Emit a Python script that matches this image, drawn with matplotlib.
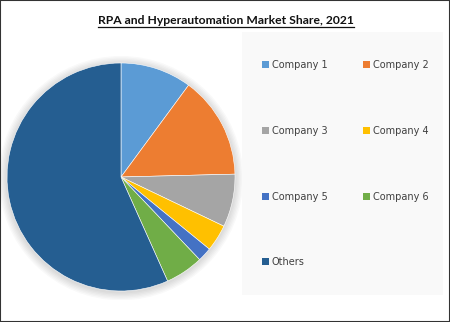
import matplotlib.pyplot as plt
from matplotlib.patches import Rectangle, Circle
from matplotlib.lines import Line2D

LABELS = ["Company 1", "Company 2", "Company 3", "Company 4", "Company 5", "Company 6", "Others"]
SHARES = [10.1, 14.5, 7.5, 3.8, 2.0, 5.4, 56.7]
COLORS = ["#5B9BD5", "#ED7D31", "#A5A5A5", "#FFC000", "#4472C4", "#70AD47", "#255E91"]
TITLE = "RPA and Hyperautomation Market Share, 2021"

W, H = 450, 322
fig = plt.figure(figsize=(W / 100, H / 100), dpi=100)

# outer border
fig.patches.append(Rectangle((0, 0), 1, 1, transform=fig.transFigure, fill=False,
                             edgecolor="#333333", linewidth=1.5))

# pie: center (121, 177), radius ~114 px, axes padded for the shadow
cx, cy, r, pad = 121, 177, 114, 1.08
half = r * pad
ax = fig.add_axes([(cx - half) / W, 1 - (cy + half) / H, 2 * half / W, 2 * half / H])
ax.axis("off")
for k in range(6):
    ax.add_patch(Circle((0.0, -0.01), 1.0 + 0.012 * (k + 1), color="black",
                        alpha=0.025, zorder=0, linewidth=0))
ax.pie(SHARES, colors=COLORS, startangle=90, counterclock=False, radius=1.0,
       wedgeprops=dict(linewidth=0.4, edgecolor="white"))
ax.set_aspect("equal")
ax.set_xlim(-pad, pad)
ax.set_ylim(-pad, pad)

# legend box
fig.patches.append(Rectangle((242 / W, 1 - 295 / H), (443 - 242) / W, (295 - 32) / H,
                             transform=fig.transFigure, facecolor="#F9F9F9",
                             edgecolor="none"))
col_x = [262, 363]
row_y = [65, 131, 197, 262]
for i, (lab, col) in enumerate(zip(LABELS, COLORS)):
    x = col_x[i % 2]
    y = row_y[i // 2]
    fig.patches.append(Rectangle((x / W, 1 - (y + 3) / H), 7 / W, 7 / H,
                                 transform=fig.transFigure, facecolor=col, edgecolor="none"))
    fig.text((x + 10) / W, 1 - y / H, lab, fontsize=7, color="#404040",
             va="center", ha="left", family="DejaVu Sans")

t = fig.text(226 / W, 1 - 20 / H, TITLE, fontsize=8.7, fontweight="bold",
             family="Lato", ha="center", va="center", color="#111111")
fig.canvas.draw()
bb = t.get_window_extent()
uy = bb.y0 - 1
fig.lines.append(Line2D([bb.x0 / W, bb.x1 / W], [uy / H, uy / H],
                        transform=fig.transFigure, color="#111111", linewidth=0.9))

fig.savefig("out.png", dpi=100)
